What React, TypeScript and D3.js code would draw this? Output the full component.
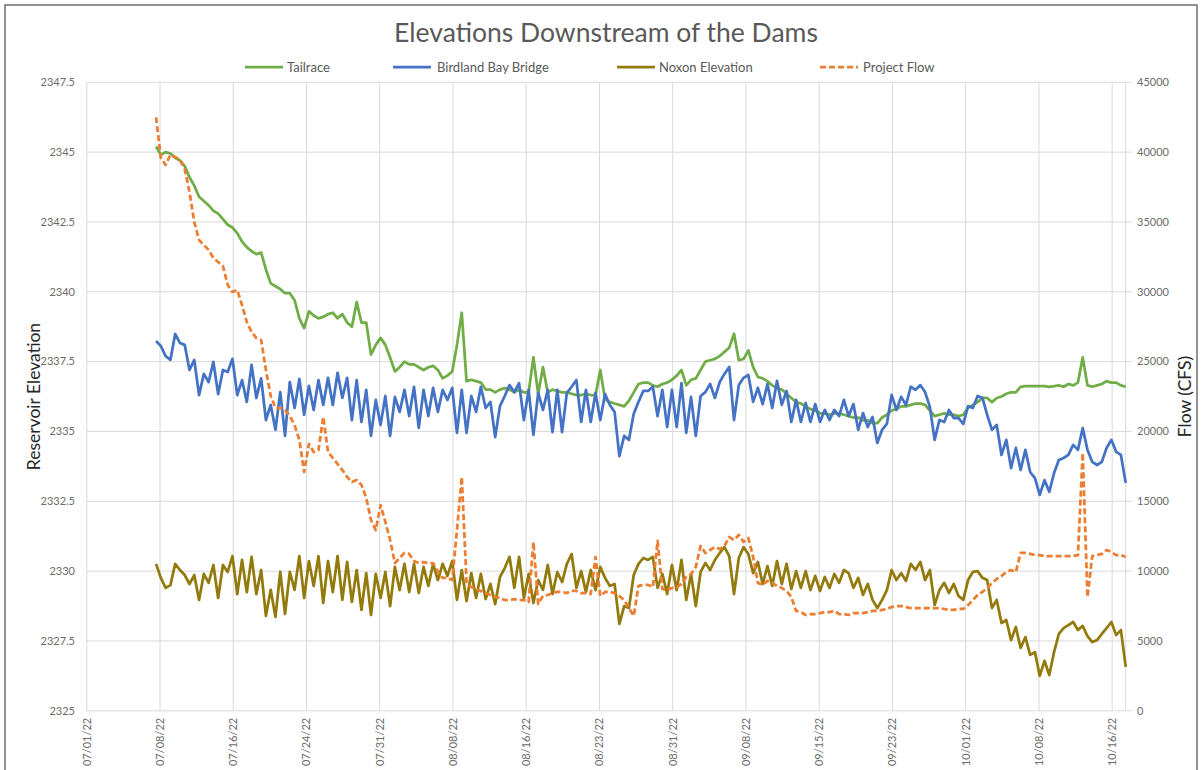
import React from "react";
import * as d3 from "d3";

// Half-daily samples, starting 07/08/22 06:00
const sampleStart = Date.UTC(2022, 6, 8, 6);
const sampleStepHours = 12;

// Tailrace elevation (ft)
const tailrace = [
  2345.2, 2344.9, 2345.0, 2344.95, 2344.8, 2344.7, 2344.5, 2344.1, 2343.8, 2343.4,
  2343.25, 2343.1, 2342.9, 2342.8, 2342.6, 2342.4, 2342.3, 2342.1, 2341.8, 2341.6,
  2341.45, 2341.35, 2341.4, 2340.8, 2340.3, 2340.2, 2340.1, 2339.95, 2339.95, 2339.7,
  2339.05, 2338.7, 2339.3, 2339.15, 2339.05, 2339.1, 2339.2, 2339.25, 2339.05, 2339.2,
  2338.9, 2338.75, 2339.63, 2338.9, 2338.9, 2337.75, 2338.1, 2338.35, 2338.1, 2337.65,
  2337.15, 2337.3, 2337.5, 2337.4, 2337.4, 2337.3, 2337.2, 2337.3, 2337.35, 2337.2,
  2336.9, 2337.0, 2337.15, 2338.1, 2339.25, 2336.8, 2336.85, 2336.8, 2336.75, 2336.5,
  2336.5, 2336.4, 2336.5, 2336.55, 2336.5, 2336.4, 2336.5, 2336.4, 2336.4, 2337.65,
  2336.35, 2337.3, 2336.4, 2336.5, 2336.45, 2336.4, 2336.4, 2336.35, 2336.3, 2336.3,
  2336.35, 2336.3, 2336.3, 2337.2, 2336.15, 2336.05, 2336.0, 2335.95, 2335.9, 2336.1,
  2336.4, 2336.7, 2336.75, 2336.75, 2336.65, 2336.6, 2336.7, 2336.75, 2336.85, 2337.0,
  2337.2, 2336.65, 2336.85, 2336.9, 2337.2, 2337.5, 2337.55, 2337.6, 2337.7, 2337.85,
  2338.0, 2338.5, 2337.55, 2337.6, 2337.9, 2337.3, 2336.95, 2336.9, 2336.8, 2336.65,
  2336.55, 2336.5, 2336.35, 2336.2, 2336.05, 2336.0, 2335.9, 2335.8, 2335.75, 2335.65,
  2335.65, 2335.6, 2335.65, 2335.65, 2335.6, 2335.55, 2335.5, 2335.5, 2335.4, 2335.4,
  2335.3, 2335.3, 2335.5, 2335.6, 2335.75, 2335.8, 2335.9, 2335.9, 2335.95, 2336.0,
  2336.0, 2335.95, 2335.75, 2335.55, 2335.6, 2335.65, 2335.6, 2335.6, 2335.55, 2335.6,
  2335.85, 2335.95, 2336.05, 2336.2, 2336.2, 2336.05, 2336.2, 2336.25, 2336.35, 2336.4,
  2336.4, 2336.6, 2336.62, 2336.62, 2336.62, 2336.62, 2336.62, 2336.6, 2336.62, 2336.65,
  2336.6, 2336.7, 2336.65, 2336.75, 2337.65, 2336.65, 2336.6, 2336.65, 2336.7, 2336.8,
  2336.75, 2336.75, 2336.65, 2336.6,
];

// Birdland Bay Bridge elevation (ft)
const birdlandBay = [
  2338.24, 2338.06, 2337.7, 2337.56, 2338.49, 2338.17, 2338.1, 2337.2, 2337.56, 2336.3,
  2337.06, 2336.77, 2337.49, 2336.34, 2337.2, 2337.13, 2337.6, 2336.3, 2336.84, 2336.06,
  2337.38, 2336.2, 2336.9, 2335.41, 2335.95, 2335.06, 2336.41, 2334.84, 2336.77, 2335.84,
  2336.88, 2335.6, 2336.63, 2335.77, 2336.84, 2335.95, 2336.92, 2335.95, 2337.1, 2336.2,
  2336.92, 2335.41, 2336.84, 2335.34, 2336.49, 2334.84, 2336.13, 2335.23, 2336.27, 2334.84,
  2336.24, 2335.7, 2336.49, 2335.55, 2336.6, 2335.13, 2336.49, 2335.55, 2336.56, 2335.7,
  2336.49, 2336.13, 2336.56, 2334.95, 2336.49, 2334.95, 2336.27, 2335.7, 2336.6, 2335.84,
  2336.06, 2334.8, 2335.91, 2336.27, 2336.66, 2336.41, 2336.73, 2335.41, 2336.49, 2334.88,
  2336.38, 2335.77, 2336.49, 2334.98, 2336.49, 2334.98, 2336.38, 2336.6, 2336.84, 2335.34,
  2336.49, 2335.34, 2336.38, 2335.41, 2336.34, 2335.95, 2335.7, 2334.12, 2334.84, 2334.7,
  2335.63, 2336.06, 2336.45, 2336.45, 2336.6, 2335.55, 2336.49, 2335.16, 2336.49, 2335.16,
  2336.73, 2334.95, 2336.24, 2334.84, 2336.27, 2336.41, 2336.7, 2336.2, 2336.77, 2337.06,
  2337.31, 2335.41, 2336.66, 2336.92, 2337.02, 2336.06, 2336.56, 2335.98, 2336.7, 2335.84,
  2336.81, 2335.95, 2336.45, 2335.34, 2336.13, 2335.34, 2336.02, 2335.34, 2335.98, 2335.34,
  2335.77, 2335.41, 2335.77, 2335.55, 2336.13, 2335.55, 2335.98, 2335.06, 2335.66, 2335.16,
  2335.52, 2334.59, 2335.06, 2335.27, 2336.31, 2335.77, 2336.24, 2335.95, 2336.6, 2336.49,
  2336.66, 2336.41, 2335.88, 2334.7, 2335.41, 2335.34, 2335.77, 2335.48, 2335.48, 2335.27,
  2335.91, 2335.84, 2336.27, 2336.2, 2335.59, 2335.06, 2335.23, 2334.16, 2334.7, 2333.69,
  2334.41, 2333.62, 2334.34, 2333.55, 2333.33, 2332.73, 2333.26, 2332.84, 2333.51, 2333.98,
  2334.05, 2334.16, 2334.52, 2334.34, 2335.12, 2334.34, 2333.91, 2333.8, 2333.91, 2334.41,
  2334.7, 2334.27, 2334.16, 2333.16,
];

// Noxon Reservoir elevation (ft)
const noxon = [
  2330.26, 2329.76, 2329.4, 2329.5, 2330.26, 2330.04, 2329.86, 2329.54, 2329.86, 2328.97,
  2329.9, 2329.58, 2330.22, 2329.04, 2330.22, 2329.97, 2330.54, 2329.18, 2330.4, 2329.25,
  2330.51, 2329.18, 2330.04, 2328.4, 2329.33, 2328.36, 2329.97, 2328.47, 2329.97, 2329.33,
  2330.54, 2329.04, 2330.36, 2329.47, 2330.54, 2328.86, 2330.36, 2329.25, 2330.54, 2328.97,
  2330.33, 2328.9, 2330.04, 2328.61, 2329.93, 2328.43, 2329.9, 2329.04, 2329.97, 2328.75,
  2330.15, 2329.32, 2330.26, 2329.25, 2330.26, 2329.22, 2330.15, 2329.47, 2330.26, 2329.68,
  2330.26, 2329.83, 2330.36, 2328.97, 2330.04, 2328.93, 2329.93, 2329.04, 2329.9, 2329.0,
  2329.54, 2328.82, 2329.79, 2330.11, 2330.51, 2329.4, 2330.51, 2329.04, 2329.9, 2328.86,
  2329.68, 2329.33, 2330.22, 2329.18, 2329.97, 2329.61, 2330.26, 2330.61, 2329.4, 2330.0,
  2329.25, 2330.04, 2329.32, 2330.15, 2329.76, 2329.47, 2329.54, 2328.11, 2328.75, 2328.68,
  2329.86, 2330.26, 2330.47, 2330.4, 2330.51, 2329.4, 2329.9, 2329.18, 2330.22, 2329.32,
  2330.4, 2328.97, 2329.9, 2328.75, 2329.97, 2330.29, 2330.04, 2330.4, 2330.65, 2330.86,
  2330.54, 2329.18, 2330.47, 2330.86, 2330.61, 2329.93, 2330.33, 2329.54, 2330.18, 2329.47,
  2330.36, 2329.54, 2330.26, 2329.36, 2330.0, 2329.4, 2330.0, 2329.32, 2329.83, 2329.29,
  2329.79, 2329.4, 2329.9, 2329.58, 2330.04, 2329.93, 2329.4, 2329.76, 2329.15, 2329.54,
  2328.97, 2328.68, 2328.97, 2329.32, 2330.04, 2329.68, 2329.93, 2329.65, 2330.26, 2330.04,
  2330.33, 2329.68, 2330.04, 2328.79, 2329.32, 2329.58, 2329.22, 2329.54, 2329.11, 2328.97,
  2329.68, 2329.97, 2330.0, 2329.76, 2329.68, 2328.68, 2328.97, 2328.14, 2328.25, 2327.53,
  2328.0, 2327.25, 2327.64, 2327.0, 2327.1, 2326.25, 2326.79, 2326.28, 2327.1, 2327.75,
  2327.96, 2328.07, 2328.18, 2327.89, 2328.04, 2327.67, 2327.46, 2327.53, 2327.75, 2327.96,
  2328.18, 2327.71, 2327.89, 2326.57,
];

// Project outflow (cfs)
const projectFlow = [
  42500, 39580, 39080, 39800, 39650, 39440, 38790, 37150, 35000, 33710,
  33350, 33000, 32420, 32130, 31850, 30490, 29990, 30130, 29050, 27840,
  27120, 26690, 26550, 24400, 22540, 21680, 21680, 21540, 21100, 20460,
  19390, 17100, 19100, 18530, 18670, 21040, 18530, 18100, 17670, 17240,
  16740, 16380, 16520, 16170, 15240, 13660, 12940, 14730, 13520, 12230,
  10580, 10940, 11300, 11230, 10730, 10580, 10650, 10580, 10580, 9940,
  9510, 9510, 9370, 12940, 16740, 9220, 8860, 8720, 8580, 8430,
  8290, 8150, 8080, 7930, 7930, 8000, 7930, 7930, 7790, 12090,
  7650, 8220, 8290, 8430, 8510, 8510, 8430, 8580, 8580, 8430,
  8430, 8360, 11010, 8220, 8510, 8510, 8430, 8220, 7930, 7360,
  6790, 8940, 9010, 9010, 8860, 12160, 8720, 8650, 8790, 8860,
  9080, 9580, 9800, 10300, 11800, 11300, 11510, 11730, 11580, 11800,
  12440, 12230, 12590, 12090, 12370, 11010, 9150, 9010, 9300, 9150,
  8940, 8790, 8580, 8150, 7150, 7070, 6860, 6930, 6930, 7000,
  7070, 7070, 7150, 6930, 6930, 6860, 7000, 7000, 7000, 7070,
  7150, 7150, 7220, 7290, 7430, 7500, 7500, 7430, 7360, 7360,
  7360, 7360, 7360, 7360, 7360, 7290, 7220, 7220, 7290, 7290,
  7570, 7930, 8290, 8510, 8790, 9150, 9440, 9650, 9940, 10080,
  9940, 11300, 11300, 11230, 11150, 11150, 11080, 11080, 11080, 11080,
  11080, 11080, 11080, 11150, 18460, 8150, 11080, 11150, 11230, 11510,
  11370, 11150, 11150, 11010,
];

const elevationTicks = [2325, 2327.5, 2330, 2332.5, 2335, 2337.5, 2340, 2342.5, 2345, 2347.5];
const flowTicks = [0, 5000, 10000, 15000, 20000, 25000, 30000, 35000, 40000, 45000];

// Date axis labels fall every 184 hours from 07/01/22
const dateTickStart = Date.UTC(2022, 6, 1);
const dateTickStepHours = 184;
const dateTickCount = 15;

const seriesInfo = [
  { name: "Tailrace", values: tailrace, color: "#70ad47", axis: "left", dash: "" },
  { name: "Birdland Bay Bridge", values: birdlandBay, color: "#4472c4", axis: "left", dash: "" },
  { name: "Noxon Elevation", values: noxon, color: "#937a0c", axis: "left", dash: "" },
  { name: "Project Flow", values: projectFlow, color: "#ed7d31", axis: "right", dash: "6 3" },
];

const W = 1203;
const H = 770;
const plot = { left: 86.8, right: 1125.7, top: 82.3, bottom: 710.8 };
const FONT = "Lato, 'Open Sans', sans-serif";
const HOUR = 3600 * 1000;

export default function App() {
  const times = tailrace.map((_, i) => new Date(sampleStart + i * sampleStepHours * HOUR));
  const x = d3
    .scaleUtc()
    .domain([new Date(dateTickStart), times[times.length - 1]])
    .range([plot.left, plot.right]);
  const yLeft = d3.scaleLinear().domain([2325, 2347.5]).range([plot.bottom, plot.top]);
  const yRight = d3.scaleLinear().domain([0, 45000]).range([plot.bottom, plot.top]);
  const fmt = d3.utcFormat("%m/%d/%y");
  const dateTicks = d3.range(dateTickCount).map((k) => new Date(dateTickStart + k * dateTickStepHours * HOUR));

  const pathFor = (vals: number[], axis: string) => {
    const ys = axis === "left" ? yLeft : yRight;
    return (
      d3
        .line<number>()
        .x((_, i) => x(times[i]))
        .y((v) => ys(v))(vals) || ""
    );
  };

  // legend layout: line swatch, then label
  const legendItems = [
    { ...seriesInfo[0], lx: 245, tx: 287 },
    { ...seriesInfo[1], lx: 393, tx: 437 },
    { ...seriesInfo[2], lx: 617, tx: 659 },
    { ...seriesInfo[3], lx: 820, tx: 863 },
  ];
  const legendY = 67;

  return (
    <svg
      width={W}
      height={H}
      style={{ position: "absolute", left: 0, top: 0, background: "#fff" }}
      fontFamily={FONT}
    >
      <rect x={0} y={0} width={W} height={H} fill="#fff" />
      <rect x={5} y={5} width={1192} height={H + 20} fill="none" stroke="#595959" strokeWidth={1.3} />

      {/* gridlines */}
      <g stroke="#d9d9d9" strokeWidth={1}>
        {elevationTicks.map((t) => (
          <line key={"h" + t} x1={plot.left} x2={plot.right} y1={yLeft(t)} y2={yLeft(t)} />
        ))}
        {dateTicks.map((d) => (
          <line key={"v" + d.getTime()} x1={x(d)} x2={x(d)} y1={plot.top} y2={plot.bottom} />
        ))}
        <line x1={plot.right} x2={plot.right} y1={plot.top} y2={plot.bottom} />
        {flowTicks.map((t) => (
          <line key={"rt" + t} x1={plot.right} x2={plot.right + 6} y1={yRight(t)} y2={yRight(t)} />
        ))}
      </g>

      {/* series */}
      {seriesInfo.map((s) => (
        <path
          key={s.name}
          d={pathFor(s.values, s.axis)}
          fill="none"
          stroke={s.color}
          strokeWidth={2.75}
          strokeDasharray={s.dash || undefined}
          strokeLinejoin="round"
        />
      ))}

      {/* left axis labels */}
      <g fontSize={11} fill="#6b6b6b" textAnchor="end">
        {elevationTicks.map((t) => (
          <text key={"lt" + t} x={75} y={yLeft(t)} dy="0.35em">
            {t}
          </text>
        ))}
      </g>
      {/* right axis labels */}
      <g fontSize={11} fill="#6b6b6b" textAnchor="start">
        {flowTicks.map((t) => (
          <text key={"rl" + t} x={1137} y={yRight(t)} dy="0.35em">
            {t}
          </text>
        ))}
      </g>
      {/* date labels */}
      <g fontSize={11} fill="#6b6b6b" textAnchor="end">
        {dateTicks.map((d) => (
          <text
            key={"dl" + d.getTime()}
            transform={`translate(${x(d)},${plot.bottom + 7}) rotate(-90)`}
            dy="0.35em"
          >
            {fmt(d)}
          </text>
        ))}
      </g>

      {/* axis titles */}
      <text
        transform={`translate(40,${(plot.top + plot.bottom) / 2}) rotate(-90)`}
        textAnchor="middle"
        fontSize={17.5}
        fill="#262626"
      >
        Reservoir Elevation
      </text>
      <text
        transform={`translate(1191,${(plot.top + plot.bottom) / 2}) rotate(-90)`}
        textAnchor="middle"
        fontSize={17.5}
        fill="#262626"
      >
        Flow (CFS)
      </text>

      {/* title */}
      <text x={606} y={42} textAnchor="middle" fontSize={26.5} fill="#595959">
        Elevations Downstream of the Dams
      </text>

      {/* legend */}
      <g fontSize={13} fill="#595959">
        {legendItems.map((it) => (
          <g key={"lg" + it.name}>
            <line
              x1={it.lx}
              x2={it.lx + 38}
              y1={legendY}
              y2={legendY}
              stroke={it.color}
              strokeWidth={2.75}
              strokeDasharray={it.dash || undefined}
            />
            <text x={it.tx} y={legendY} dy="0.35em">
              {it.name}
            </text>
          </g>
        ))}
      </g>
    </svg>
  );
}
